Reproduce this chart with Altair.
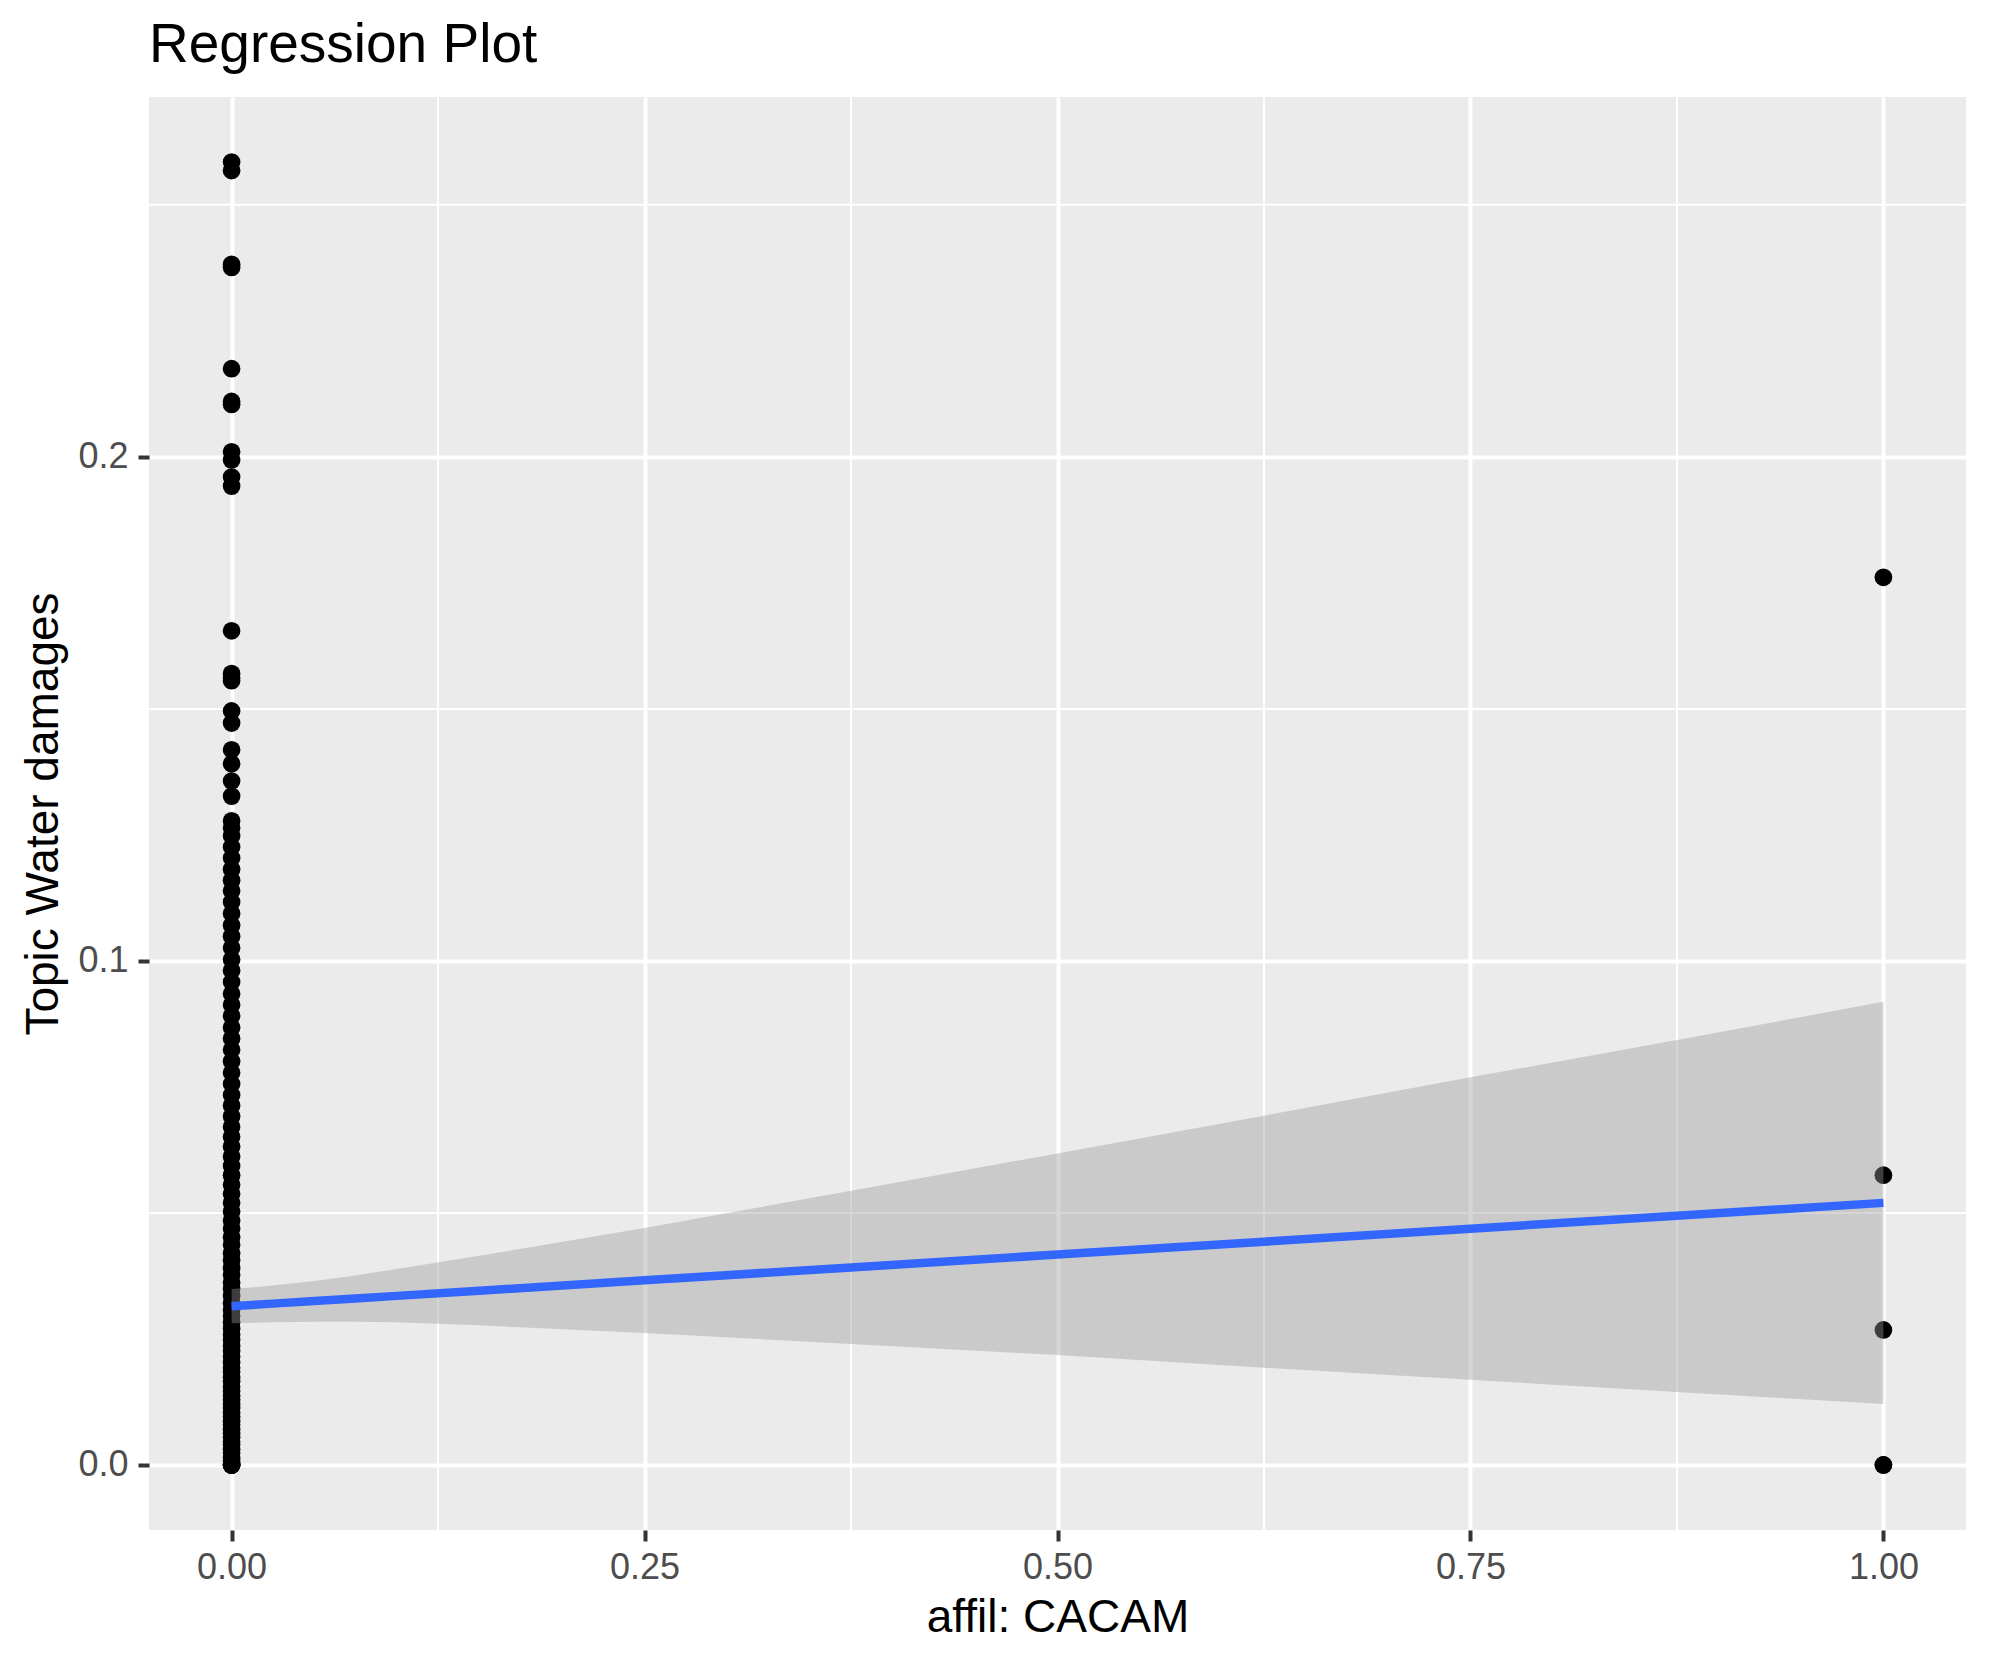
import altair as alt
import pandas as pd

FONT = "Liberation Sans"

title_text = "Regression Plot"
x_title = "affil: CACAM"
y_title = "Topic Water damages"

# Topic Water damages values for observations with affil = 0
affil0_values = [
    0.2585, 0.2568, 0.2382, 0.2376, 0.2175, 0.2110, 0.2104, 0.2010, 0.1994,
    0.1960, 0.1942, 0.1655, 0.1570, 0.1562, 0.1556, 0.1496, 0.1472, 0.1419,
    0.1391, 0.1357, 0.1327,
    0.1278, 0.1264, 0.1248, 0.1226, 0.1204, 0.1182, 0.1160, 0.1139, 0.1117,
    0.1094, 0.1071, 0.1049, 0.1026, 0.1003, 0.0981, 0.0958, 0.0935, 0.0913,
    0.0891, 0.0868, 0.0846, 0.0824, 0.0801, 0.0778, 0.0756, 0.0734, 0.0713,
    0.0692, 0.0671, 0.0651, 0.0632, 0.0612, 0.0593, 0.0575, 0.0556, 0.0538,
    0.0520, 0.0503, 0.0485, 0.0469, 0.0452, 0.0437, 0.0420, 0.0406, 0.0391,
    0.0377, 0.0362, 0.0349, 0.0335, 0.0321, 0.0308, 0.0296, 0.0283, 0.0271,
    0.0259, 0.0248, 0.0236, 0.0226, 0.0215, 0.0204, 0.0193, 0.0185, 0.0174,
    0.0166, 0.0155, 0.0147, 0.0138, 0.0130, 0.0121, 0.0113, 0.0104, 0.0096,
    0.0087, 0.0080, 0.0071, 0.0063, 0.0055, 0.0046, 0.0040, 0.0031, 0.0024,
    0.0015, 0.0008, 0.0, 0.0, 0.0, 0.0,
]
# Topic Water damages values for observations with affil = 1
affil1_values = [0.1761, 0.0575, 0.0268, 0.0, 0.0]

# linear fit with 95% confidence band
fit_x = [0.0, 0.025, 0.05, 0.075, 0.1, 0.15, 0.25, 0.375, 0.5, 0.625, 0.75, 0.875, 1.0]
fit_y = [0.03150, 0.03201, 0.03253, 0.03304, 0.03355, 0.03458, 0.03663, 0.03919,
         0.04175, 0.04431, 0.04688, 0.04944, 0.05200]
fit_lower = [0.0281, 0.0283, 0.0284, 0.0284, 0.0283, 0.0277, 0.0262, 0.0240, 0.0218, 0.0193, 0.0169, 0.0145, 0.0121]
fit_upper = [0.0349, 0.0356, 0.0365, 0.0376, 0.0389, 0.0415, 0.0470, 0.0544, 0.0618, 0.0693, 0.0769, 0.0843, 0.0919]

x_major = [0.0, 0.25, 0.5, 0.75, 1.0]
x_minor = [0.125, 0.375, 0.625, 0.875]
y_major = [0.0, 0.1, 0.2]
y_minor = [0.05, 0.15, 0.25]

x_domain = [-0.05, 1.05]
y_domain = [-0.0129, 0.2714]

points = pd.DataFrame({
    "affil": [0.0] * len(affil0_values) + [1.0] * len(affil1_values),
    "topic": affil0_values + affil1_values,
})
fit = pd.DataFrame({"affil": fit_x, "topic": fit_y, "lower": fit_lower, "upper": fit_upper})
xminor_df = pd.DataFrame({"affil": x_minor})
yminor_df = pd.DataFrame({"topic": y_minor})

x_scale = alt.Scale(domain=x_domain, nice=False, zero=False)
y_scale = alt.Scale(domain=y_domain, nice=False, zero=False)

common_axis = dict(
    grid=True, gridColor="white", gridWidth=4, domain=False,
    tickColor="#333333", tickWidth=4, tickSize=11,
    labelFont=FONT, labelFontSize=36, labelColor="#4D4D4D",
    titleFont=FONT, titleFontSize=46, titleFontWeight="normal", titleColor="black",
)
x_axis = alt.Axis(values=x_major, format=".2f", labelPadding=9, titlePadding=10,
                  title=x_title, **common_axis)
y_axis = alt.Axis(values=y_major, format=".1f", labelPadding=10, titlePadding=10,
                  title=y_title, **common_axis)

X = lambda: alt.X("affil:Q", scale=x_scale, axis=x_axis)
Y = lambda: alt.Y("topic:Q", scale=y_scale, axis=y_axis)

xminor = alt.Chart(xminor_df).mark_rule(color="white", strokeWidth=2).encode(x=X())
yminor = alt.Chart(yminor_df).mark_rule(color="white", strokeWidth=2).encode(y=Y())

pts = alt.Chart(points).mark_circle(size=314, color="black", opacity=1).encode(x=X(), y=Y())

band = alt.Chart(fit).mark_area(color="#999999", opacity=0.4).encode(
    x=X(), y=Y(), y2="upper:Q"
).transform_calculate(topic="datum.lower")

line = alt.Chart(fit).mark_line(color="#3366FF", strokeWidth=8.5).encode(x=X(), y=Y())

chart = alt.layer(xminor, yminor, pts, band, line).properties(
    width=1817,
    height=1433,
    background="white",
    autosize=alt.AutoSizeParams(type="none"),
    padding={"left": 141, "top": 89, "right": 12, "bottom": 120},
    title=alt.Title(title_text, anchor="start", frame="group", font=FONT, fontSize=55,
                    fontWeight="normal", color="black", baseline="alphabetic", offset=31, dy=52),
).configure_view(fill="#EBEBEB", strokeWidth=0, stroke=None)

chart.save("out.html", embed_options={"renderer": "svg", "actions": False})
